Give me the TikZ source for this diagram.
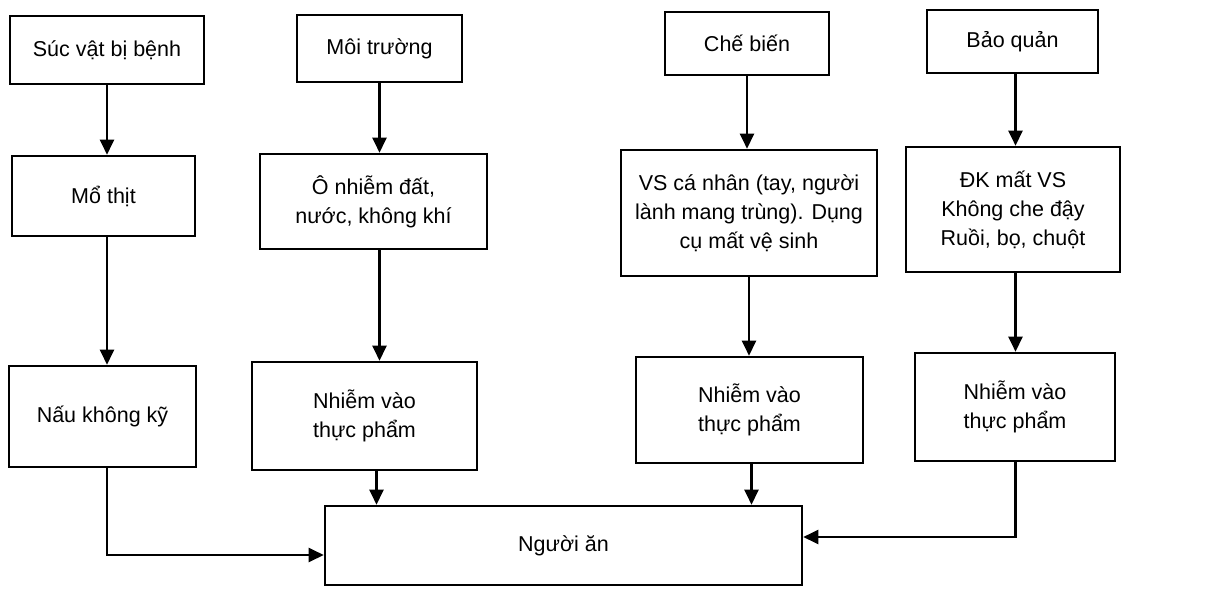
\documentclass[tikz,border=0pt]{standalone}
\usepackage{fontspec}
\setmainfont{Liberation Sans}
\usetikzlibrary{arrows.meta,calc}
\tikzset{
  box/.style={draw, line width=2.6pt, align=center, inner sep=0pt, font=\fontsize{21.5}{29}\selectfont},
  arr/.style={line width=2.4pt, -{Triangle[length=15pt,width=14pt]}}
}
\begin{document}
\begin{tikzpicture}[x=1pt,y=-1pt]
  % page frame
  \fill[white] (0,0) rectangle (1210,591);
  \useasboundingbox (0,0) rectangle (1210,591);
  % column 1
  \node[box, minimum width=194, minimum height=68] (benh) at (107,50) {Súc vật bị bệnh};
  \node[box, minimum width=183, minimum height=80] (mo) at (103.5,196) {Mổ thịt};
  \node[box, minimum width=187, minimum height=101] (nau) at (102.5,416.5) {Nấu không kỹ};
  % column 2
  \node[box, minimum width=165, minimum height=67] (moitruong) at (379.5,48.5) {Môi trường};
  \node[box, minimum width=227, minimum height=95] (onhiem) at (373.5,201.5) {Ô nhiễm đất,\\nước, không khí};
  \node[box, minimum width=225, minimum height=108] (nhiemA) at (364.5,416) {Nhiễm vào\\thực phẩm};
  % column 3
  \node[box, minimum width=164, minimum height=63] (chebien) at (747,43.5) {Chế biến};
  \node[box, minimum width=256, minimum height=126] (vs) at (749,213) {VS cá nhân (tay, người\\lành mang trùng). Dụng\\cụ mất vệ sinh};
  \node[box, minimum width=227, minimum height=106] (nhiemB) at (749.5,410) {Nhiễm vào\\thực phẩm};
  % column 4
  \node[box, minimum width=171, minimum height=63] (baoquan) at (1012.5,41.5) {Bảo quản};
  \node[box, minimum width=214, minimum height=125] (dk) at (1013,209.5) {ĐK mất VS\\Không che đậy\\Ruồi, bọ, chuột};
  \node[box, minimum width=200, minimum height=108] (nhiemC) at (1015,407) {Nhiễm vào\\thực phẩm};
  % target
  \node[box, minimum width=477, minimum height=79] (an) at (563.5,545.5) {Người ăn};

  % arrows
  \draw[arr] (benh.south) -- (benh.south |- mo.north);
  \draw[arr] (benh.south |- mo.south) -- (benh.south |- nau.north);
  \draw[arr] (benh.south |- nau.south) |- ($(an.west)+(0,9.5)$);
  \draw[arr] (moitruong.south) -- (moitruong.south |- onhiem.north);
  \draw[arr] (moitruong.south |- onhiem.south) -- (moitruong.south |- nhiemA.north);
  \draw[arr] ($(moitruong.south |- nhiemA.south)+(-3,0)$) -- ($(moitruong.south |- an.north)+(-3,0)$);
  \draw[arr] (chebien.south) -- (chebien.south |- vs.north);
  \draw[arr] (vs.south) -- (vs.south |- nhiemB.north);
  \draw[arr] ($(nhiemB.south)+(2,0)$) -- ($(nhiemB.south |- an.north)+(2,0)$);
  \draw[arr] ($(baoquan.south)+(3,0)$) -- ($(baoquan.south |- dk.north)+(3,0)$);
  \draw[arr] ($(baoquan.south |- dk.south)+(3,0)$) -- ($(baoquan.south |- nhiemC.north)+(3,0)$);
  \draw[arr] ($(baoquan.south |- nhiemC.south)+(3,0)$) |- ($(an.east)+(0,-8.5)$);
\end{tikzpicture}
\end{document}
